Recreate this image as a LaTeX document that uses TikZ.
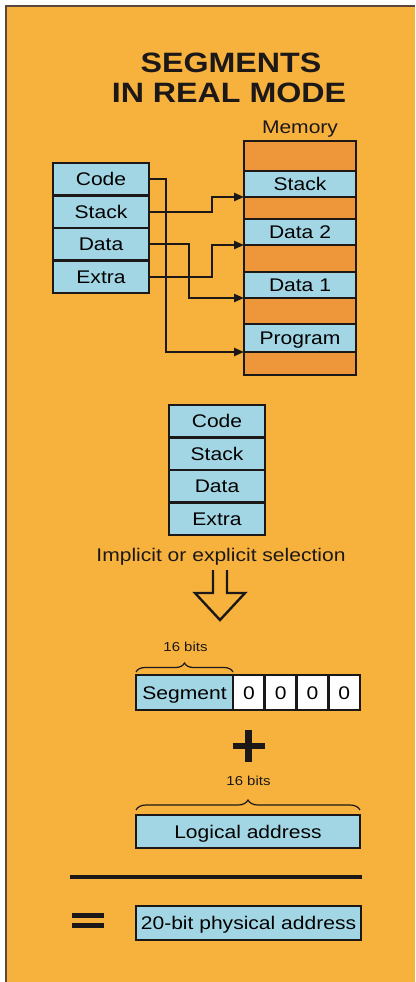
\documentclass[tikz,border=0pt]{standalone}
\usepackage{fontspec}
\setmainfont{Liberation Sans}[FakeStretch=1.15]
\usetikzlibrary{arrows.meta,decorations.pathreplacing,calc}
\definecolor{bgorange}{RGB}{247,178,62}
\definecolor{memorange}{RGB}{238,150,58}
\definecolor{cellblue}{RGB}{163,214,228}
\definecolor{ink}{RGB}{28,24,24}
\definecolor{frame}{RGB}{90,70,60}
\tikzset{
  cell/.style={draw=ink, line width=2.6pt, fill=cellblue, inner sep=0pt, outer sep=0pt,
    minimum width=96pt, minimum height=32.5pt, text height=13.2pt, text depth=0pt,
    font=\fontsize{18.3}{20}\selectfont},
  memcell/.style={cell, minimum width=112pt},
  orangecell/.style={memcell, fill=memorange},
  zerocell/.style={cell, fill=white, minimum width=31.75pt, minimum height=35pt},
  lbl/.style={inner sep=0pt, font=\fontsize{18.3}{20}\selectfont, text=ink},
  small/.style={inner sep=0pt, font=\fontsize{13}{14}\selectfont, text=ink},
  titletext/.style={inner sep=0pt, font=\fontsize{28}{30}\selectfont\bfseries, text=ink},
  conn/.style={draw=ink, line width=2.4pt, -{Triangle[length=10pt,width=8pt]}},
  bracestyle/.style={draw=ink, line width=1.2pt, decorate, decoration={brace, amplitude=9pt}},
  heavy/.style={draw=ink, line cap=butt}
}
\begin{document}
\begin{tikzpicture}[x=1pt,y=-1pt]
\useasboundingbox (0,0) rectangle (415,982);
\fill[white] (0,0) rectangle (415,982);
\fill[bgorange] (6,6) rectangle (415,982);
\draw[frame, line width=2pt] (6,982) -- (6,6) -- (415,6);

% title
\node[titletext, anchor=base] (t1) at (231,73) {SEGMENTS};
\node[titletext, anchor=base] (t2) at (229,102) {IN REAL MODE};

% left registers
\node[cell] (r1) at (101,179.25) {Code};
\node[cell] (r2) at (101,211.75) {Stack};
\node[cell] (r3) at (101,244.25) {Data};
\node[cell] (r4) at (101,276.75) {Extra};

% memory
\node[lbl, anchor=base] (memlbl) at (300,133) {Memory};
\node[orangecell, minimum height=30pt] (m0) at (300,156) {};
\node[memcell, minimum height=26pt] (m1) at (300,184) {Stack};
\node[orangecell, minimum height=22pt] (m2) at (300,208) {};
\node[memcell, minimum height=26pt] (m3) at (300,232) {Data 2};
\node[orangecell, minimum height=27pt] (m4) at (300,258.5) {};
\node[memcell, minimum height=26pt] (m5) at (300,285) {Data 1};
\node[orangecell, minimum height=26pt] (m6) at (300,311) {};
\node[memcell, minimum height=28pt] (m7) at (300,338) {Program};
\node[orangecell, minimum height=23pt] (m8) at (300,363.5) {};

% connectors
\draw[conn] (r1.east) -- ++(17,0) |- (m7.south west);
\draw[conn] (r3.east) -- ++(40,0) |- (m5.south west);
\draw[conn] (r2.east) -- ++(63,0) |- (m1.south west);
\draw[conn] (r4.east) -- ++(63,0) |- (m3.south west);

% second register stack
\node[cell] (s1) at (217,421.25) {Code};
\node[cell] (s2) at (217,453.75) {Stack};
\node[cell] (s3) at (217,486.25) {Data};
\node[cell] (s4) at (217,518.75) {Extra};

\node[lbl, anchor=base] (sel) at (221,561) {Implicit or explicit selection};

% hollow arrow
\draw[ink, line width=2.4pt, line join=miter]
  (213,570) -- (213,593) -- (195,593) -- (220,620) -- (245,593) -- (227,593) -- (227,570);

% segment row
\node[cell, minimum width=97pt, minimum height=35pt] (seg) at (184.5,692.5) {Segment};
\node[zerocell, anchor=west] (z1) at (seg.east) {0};
\node[zerocell, anchor=west] (z2) at (z1.east) {0};
\node[zerocell, anchor=west] (z3) at (z2.east) {0};
\node[zerocell, anchor=west] (z4) at (z3.east) {0};
\draw[bracestyle] ([yshift=3pt]seg.north west) -- ([yshift=3pt]seg.north east);
\node[small, anchor=base] (b1) at (185.5,651) {16 bits};

% plus
\draw[heavy, line width=6.5pt] (232.5,746) -- (264.5,746);
\draw[heavy, line width=6.5pt] (248.5,730) -- (248.5,762);

% logical address
\node[cell, minimum width=224pt, minimum height=33pt] (log) at (248,831.5) {Logical address};
\draw[bracestyle, decoration={brace, amplitude=10pt}] ([yshift=5pt]log.north west) -- ([yshift=5pt]log.north east);
\node[small, anchor=base] (b2) at (248.5,785) {16 bits};

% sum line
\draw[heavy, line width=4.5pt] (70,877) -- (362,877);

% equals
\draw[heavy, line width=5pt] (72,915.5) -- (104,915.5);
\draw[heavy, line width=5pt] (72,925.3) -- (104,925.3);

% result
\node[cell, minimum width=225pt, minimum height=34pt] (phys) at (248.5,923) {20-bit physical address};
\end{tikzpicture}
\end{document}
